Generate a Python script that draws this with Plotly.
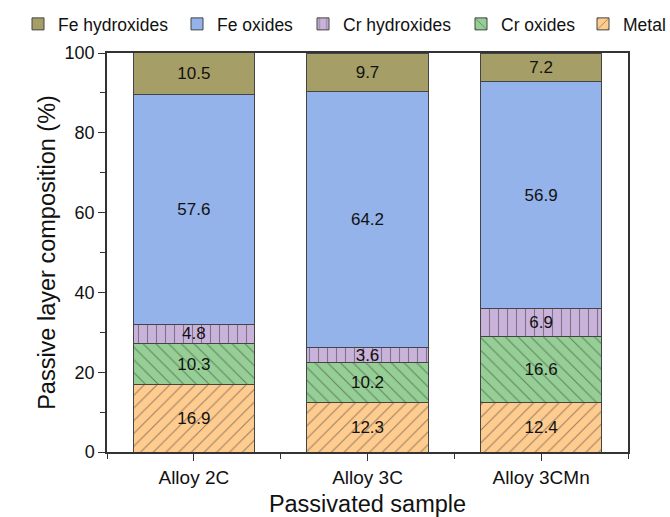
import plotly.graph_objects as go

samples = ["Alloy 2C", "Alloy 3C", "Alloy 3CMn"]
metal = [16.9, 12.3, 12.4]
cr_oxides = [10.3, 10.2, 16.6]
cr_hydroxides = [4.8, 3.6, 6.9]
fe_oxides = [57.6, 64.2, 56.9]
fe_hydroxides = [10.5, 9.7, 7.2]

# bottom-to-top stacking order; each series gets its own legend box along the top
layers = [
    ("Metal", metal, "#FFCC8F", "/", "legend5"),
    ("Cr oxides", cr_oxides, "#95CF95", "\\", "legend4"),
    ("Cr hydroxides", cr_hydroxides, "#C9B3DA", "|", "legend3"),
    ("Fe oxides", fe_oxides, "#93B3EA", "", "legend2"),
    ("Fe hydroxides", fe_hydroxides, "#A59E66", "", "legend"),
]
# left edge (px) of each legend box
legend_left = {"legend": 18, "legend2": 177, "legend3": 303, "legend4": 461, "legend5": 583}

xpos = list(range(len(samples)))
font = "Liberation Sans, Arial, sans-serif"

fig = go.Figure()
for name, vals, color, shape, leg in layers:
    fig.add_trace(go.Bar(
        x=xpos, y=vals, name=name, width=0.7, legend=leg, showlegend=True,
        marker=dict(
            color=color,
            line=dict(color="#444444", width=1),
            pattern=dict(shape=shape, fgcolor="#333333", size=9, solidity=0.12,
                         fillmode="overlay") if shape else None,
        ),
        text=[f"{v:.1f}" for v in vals],
        textposition="inside", insidetextanchor="middle",
        textfont=dict(family=font, size=17, color="#111111"),
        textangle=0, constraintext="none",
    ))

W, H = 670, 517
legend_style = dict(orientation="h", xref="container", xanchor="left",
                    yref="container", y=1 - 24 / H, yanchor="middle",
                    font=dict(size=17.5), itemwidth=30,
                    bgcolor="rgba(0,0,0,0)", borderwidth=0)
legends = {k: dict(legend_style, x=v / W) for k, v in legend_left.items()}

fig.update_layout(
    barmode="stack",
    showlegend=True,
    width=W, height=H,
    margin=dict(l=107, r=42, t=53, b=65, autoexpand=False),
    plot_bgcolor="white", paper_bgcolor="white",
    font=dict(family=font, size=18, color="#111111"),
    **legends,
    xaxis=dict(
        range=[-0.5, 2.5], tickvals=xpos, ticktext=samples,
        ticks="outside", ticklen=7, tickcolor="#333", showline=True, linecolor="#333",
        linewidth=1.5, mirror=True, showgrid=False, zeroline=False,
        minor=dict(tickvals=[-0.5, 0.5, 1.5, 2.5], ticks="outside", ticklen=5, tickcolor="#333"),
        title=dict(text="Passivated sample", font=dict(size=23.5), standoff=10),
        tickfont=dict(size=19),
    ),
    yaxis=dict(
        range=[0, 100], tickvals=[0, 20, 40, 60, 80, 100],
        ticks="outside", ticklen=7, tickcolor="#333", showline=True, linecolor="#333",
        linewidth=1.5, mirror=True, showgrid=False, zeroline=False,
        minor=dict(tickvals=[10, 30, 50, 70, 90], ticks="outside", ticklen=5, tickcolor="#333"),
        title=dict(text="Passive layer composition (%)", font=dict(size=23.5), standoff=2),
        tickfont=dict(size=18),
    ),
)

fig.write_html("out.html")
